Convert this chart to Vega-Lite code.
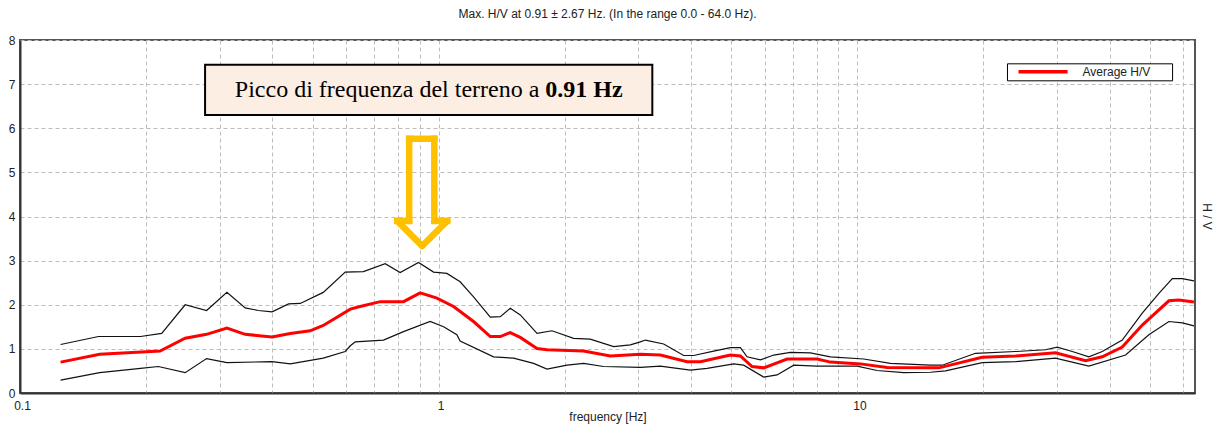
{
  "$schema": "https://vega.github.io/schema/vega-lite/v6.json",
  "width": 1175,
  "height": 353,
  "autosize": "none",
  "padding": {"left": 20, "top": 40, "right": 20, "bottom": 32},
  "background": "white",
  "title": {"text": "Max. H/V at 0.91 ± 2.67 Hz. (In the range 0.0 - 64.0 Hz).", "font": "Liberation Sans", "fontSize": 12, "fontWeight": "normal", "color": "#222222", "anchor": "middle", "offset": 13},
  "config": {
    "view": {"stroke": "#555555", "strokeWidth": 2},
    "axis": {"labelFont": "Liberation Sans", "labelFontSize": 12, "labelColor": "#222222", "titleFont": "Liberation Sans", "titleFontSize": 12, "titleFontWeight": "normal", "titleColor": "#222222", "gridColor": "#bdbdbd", "gridDash": [4, 3], "gridWidth": 1, "ticks": false, "domainColor": "#333333", "domainWidth": 2}
  },
  "datasets": {
    "curves": [
      {"series": "Upper", "freq": 0.125, "hv": 1.10},
      {"series": "Upper", "freq": 0.154, "hv": 1.28},
      {"series": "Upper", "freq": 0.194, "hv": 1.28},
      {"series": "Upper", "freq": 0.218, "hv": 1.35},
      {"series": "Upper", "freq": 0.248, "hv": 2.00},
      {"series": "Upper", "freq": 0.279, "hv": 1.87},
      {"series": "Upper", "freq": 0.312, "hv": 2.28},
      {"series": "Upper", "freq": 0.345, "hv": 1.93},
      {"series": "Upper", "freq": 0.371, "hv": 1.87},
      {"series": "Upper", "freq": 0.400, "hv": 1.84},
      {"series": "Upper", "freq": 0.438, "hv": 2.02},
      {"series": "Upper", "freq": 0.467, "hv": 2.03},
      {"series": "Upper", "freq": 0.530, "hv": 2.28},
      {"series": "Upper", "freq": 0.598, "hv": 2.74},
      {"series": "Upper", "freq": 0.661, "hv": 2.75},
      {"series": "Upper", "freq": 0.745, "hv": 2.93},
      {"series": "Upper", "freq": 0.809, "hv": 2.73},
      {"series": "Upper", "freq": 0.895, "hv": 2.96},
      {"series": "Upper", "freq": 0.972, "hv": 2.74},
      {"series": "Upper", "freq": 1.046, "hv": 2.71},
      {"series": "Upper", "freq": 1.125, "hv": 2.52},
      {"series": "Upper", "freq": 1.211, "hv": 2.18},
      {"series": "Upper", "freq": 1.328, "hv": 1.72},
      {"series": "Upper", "freq": 1.403, "hv": 1.73},
      {"series": "Upper", "freq": 1.482, "hv": 1.92},
      {"series": "Upper", "freq": 1.566, "hv": 1.77},
      {"series": "Upper", "freq": 1.717, "hv": 1.35},
      {"series": "Upper", "freq": 1.864, "hv": 1.41},
      {"series": "Upper", "freq": 2.100, "hv": 1.24},
      {"series": "Upper", "freq": 2.301, "hv": 1.22},
      {"series": "Upper", "freq": 2.617, "hv": 1.05},
      {"series": "Upper", "freq": 2.868, "hv": 1.09},
      {"series": "Upper", "freq": 3.030, "hv": 1.16},
      {"series": "Upper", "freq": 3.115, "hv": 1.20},
      {"series": "Upper", "freq": 3.445, "hv": 1.11},
      {"series": "Upper", "freq": 3.846, "hv": 0.85},
      {"series": "Upper", "freq": 4.063, "hv": 0.85},
      {"series": "Upper", "freq": 4.536, "hv": 0.95},
      {"series": "Upper", "freq": 4.972, "hv": 1.03},
      {"series": "Upper", "freq": 5.253, "hv": 1.03},
      {"series": "Upper", "freq": 5.450, "hv": 0.82},
      {"series": "Upper", "freq": 5.865, "hv": 0.75},
      {"series": "Upper", "freq": 6.310, "hv": 0.86},
      {"series": "Upper", "freq": 6.917, "hv": 0.92},
      {"series": "Upper", "freq": 7.722, "hv": 0.91},
      {"series": "Upper", "freq": 8.619, "hv": 0.82},
      {"series": "Upper", "freq": 10.35, "hv": 0.77},
      {"series": "Upper", "freq": 11.99, "hv": 0.67},
      {"series": "Upper", "freq": 14.94, "hv": 0.63},
      {"series": "Upper", "freq": 15.94, "hv": 0.63},
      {"series": "Upper", "freq": 19.14, "hv": 0.90},
      {"series": "Upper", "freq": 23.85, "hv": 0.94},
      {"series": "Upper", "freq": 28.13, "hv": 0.98},
      {"series": "Upper", "freq": 30.01, "hv": 1.04},
      {"series": "Upper", "freq": 32.58, "hv": 0.94},
      {"series": "Upper", "freq": 35.70, "hv": 0.82},
      {"series": "Upper", "freq": 38.43, "hv": 0.94},
      {"series": "Upper", "freq": 42.90, "hv": 1.20},
      {"series": "Upper", "freq": 47.89, "hv": 1.81},
      {"series": "Upper", "freq": 52.48, "hv": 2.26},
      {"series": "Upper", "freq": 56.49, "hv": 2.59},
      {"series": "Upper", "freq": 59.70, "hv": 2.59},
      {"series": "Upper", "freq": 63.63, "hv": 2.54},

      {"series": "Average H/V", "freq": 0.125, "hv": 0.70},
      {"series": "Average H/V", "freq": 0.155, "hv": 0.88},
      {"series": "Average H/V", "freq": 0.216, "hv": 0.95},
      {"series": "Average H/V", "freq": 0.248, "hv": 1.24},
      {"series": "Average H/V", "freq": 0.279, "hv": 1.33},
      {"series": "Average H/V", "freq": 0.312, "hv": 1.47},
      {"series": "Average H/V", "freq": 0.345, "hv": 1.33},
      {"series": "Average H/V", "freq": 0.400, "hv": 1.27},
      {"series": "Average H/V", "freq": 0.442, "hv": 1.35},
      {"series": "Average H/V", "freq": 0.493, "hv": 1.41},
      {"series": "Average H/V", "freq": 0.530, "hv": 1.53},
      {"series": "Average H/V", "freq": 0.615, "hv": 1.90},
      {"series": "Average H/V", "freq": 0.649, "hv": 1.96},
      {"series": "Average H/V", "freq": 0.725, "hv": 2.07},
      {"series": "Average H/V", "freq": 0.824, "hv": 2.07},
      {"series": "Average H/V", "freq": 0.903, "hv": 2.27},
      {"series": "Average H/V", "freq": 0.990, "hv": 2.15},
      {"series": "Average H/V", "freq": 1.085, "hv": 1.96},
      {"series": "Average H/V", "freq": 1.211, "hv": 1.62},
      {"series": "Average H/V", "freq": 1.328, "hv": 1.28},
      {"series": "Average H/V", "freq": 1.403, "hv": 1.28},
      {"series": "Average H/V", "freq": 1.482, "hv": 1.37},
      {"series": "Average H/V", "freq": 1.566, "hv": 1.26},
      {"series": "Average H/V", "freq": 1.717, "hv": 1.01},
      {"series": "Average H/V", "freq": 1.814, "hv": 0.98},
      {"series": "Average H/V", "freq": 2.218, "hv": 0.95},
      {"series": "Average H/V", "freq": 2.570, "hv": 0.84},
      {"series": "Average H/V", "freq": 3.030, "hv": 0.88},
      {"series": "Average H/V", "freq": 3.383, "hv": 0.86},
      {"series": "Average H/V", "freq": 3.919, "hv": 0.71},
      {"series": "Average H/V", "freq": 4.217, "hv": 0.71},
      {"series": "Average H/V", "freq": 4.972, "hv": 0.86},
      {"series": "Average H/V", "freq": 5.253, "hv": 0.84},
      {"series": "Average H/V", "freq": 5.603, "hv": 0.60},
      {"series": "Average H/V", "freq": 5.971, "hv": 0.57},
      {"series": "Average H/V", "freq": 6.792, "hv": 0.77},
      {"series": "Average H/V", "freq": 8.011, "hv": 0.77},
      {"series": "Average H/V", "freq": 8.619, "hv": 0.70},
      {"series": "Average H/V", "freq": 10.17, "hv": 0.66},
      {"series": "Average H/V", "freq": 11.78, "hv": 0.58},
      {"series": "Average H/V", "freq": 14.94, "hv": 0.57},
      {"series": "Average H/V", "freq": 15.65, "hv": 0.57},
      {"series": "Average H/V", "freq": 19.86, "hv": 0.81},
      {"series": "Average H/V", "freq": 23.85, "hv": 0.84},
      {"series": "Average H/V", "freq": 29.72, "hv": 0.91},
      {"series": "Average H/V", "freq": 35.06, "hv": 0.73},
      {"series": "Average H/V", "freq": 38.43, "hv": 0.82},
      {"series": "Average H/V", "freq": 42.90, "hv": 1.04},
      {"series": "Average H/V", "freq": 47.89, "hv": 1.54},
      {"series": "Average H/V", "freq": 55.44, "hv": 2.09},
      {"series": "Average H/V", "freq": 58.59, "hv": 2.11},
      {"series": "Average H/V", "freq": 63.63, "hv": 2.06},

      {"series": "Lower", "freq": 0.125, "hv": 0.29},
      {"series": "Lower", "freq": 0.155, "hv": 0.46},
      {"series": "Lower", "freq": 0.194, "hv": 0.56},
      {"series": "Lower", "freq": 0.214, "hv": 0.60},
      {"series": "Lower", "freq": 0.248, "hv": 0.46},
      {"series": "Lower", "freq": 0.279, "hv": 0.78},
      {"series": "Lower", "freq": 0.312, "hv": 0.69},
      {"series": "Lower", "freq": 0.400, "hv": 0.71},
      {"series": "Lower", "freq": 0.442, "hv": 0.66},
      {"series": "Lower", "freq": 0.530, "hv": 0.79},
      {"series": "Lower", "freq": 0.598, "hv": 0.94},
      {"series": "Lower", "freq": 0.615, "hv": 1.07},
      {"series": "Lower", "freq": 0.632, "hv": 1.16},
      {"series": "Lower", "freq": 0.738, "hv": 1.20},
      {"series": "Lower", "freq": 0.824, "hv": 1.39},
      {"series": "Lower", "freq": 0.954, "hv": 1.62},
      {"series": "Lower", "freq": 1.027, "hv": 1.50},
      {"series": "Lower", "freq": 1.105, "hv": 1.32},
      {"series": "Lower", "freq": 1.125, "hv": 1.18},
      {"series": "Lower", "freq": 1.352, "hv": 0.82},
      {"series": "Lower", "freq": 1.509, "hv": 0.79},
      {"series": "Lower", "freq": 1.685, "hv": 0.67},
      {"series": "Lower", "freq": 1.814, "hv": 0.54},
      {"series": "Lower", "freq": 2.025, "hv": 0.63},
      {"series": "Lower", "freq": 2.218, "hv": 0.67},
      {"series": "Lower", "freq": 2.476, "hv": 0.60},
      {"series": "Lower", "freq": 3.030, "hv": 0.58},
      {"series": "Lower", "freq": 3.383, "hv": 0.61},
      {"series": "Lower", "freq": 3.990, "hv": 0.52},
      {"series": "Lower", "freq": 4.374, "hv": 0.56},
      {"series": "Lower", "freq": 5.063, "hv": 0.66},
      {"series": "Lower", "freq": 5.349, "hv": 0.63},
      {"series": "Lower", "freq": 5.971, "hv": 0.36},
      {"series": "Lower", "freq": 6.428, "hv": 0.41},
      {"series": "Lower", "freq": 7.044, "hv": 0.63},
      {"series": "Lower", "freq": 8.011, "hv": 0.61},
      {"series": "Lower", "freq": 9.984, "hv": 0.61},
      {"series": "Lower", "freq": 11.14, "hv": 0.51},
      {"series": "Lower", "freq": 12.90, "hv": 0.46},
      {"series": "Lower", "freq": 14.94, "hv": 0.47},
      {"series": "Lower", "freq": 16.23, "hv": 0.50},
      {"series": "Lower", "freq": 19.86, "hv": 0.69},
      {"series": "Lower", "freq": 23.85, "hv": 0.71},
      {"series": "Lower", "freq": 29.72, "hv": 0.79},
      {"series": "Lower", "freq": 35.70, "hv": 0.61},
      {"series": "Lower", "freq": 43.69, "hv": 0.86},
      {"series": "Lower", "freq": 49.66, "hv": 1.32},
      {"series": "Lower", "freq": 55.44, "hv": 1.62},
      {"series": "Lower", "freq": 59.70, "hv": 1.59},
      {"series": "Lower", "freq": 63.63, "hv": 1.52}
    ]
  },
  "layer": [
    {
      "data": {"name": "curves"},
      "transform": [{"filter": "datum.series != 'Average H/V'"}],
      "mark": {"type": "line", "color": "#111111", "strokeWidth": 1.2},
      "encoding": {
        "x": {
          "field": "freq", "type": "quantitative",
          "scale": {"type": "log", "domain": [0.1, 64], "nice": false},
          "axis": {
            "title": "frequency [Hz]",
            "values": [0.1, 0.2, 0.3, 0.4, 0.5, 0.6, 0.7, 0.8, 0.9, 1, 2, 3, 4, 5, 6, 7, 8, 9, 10, 20, 30, 40, 50, 60],
            "format": "~g",
            "labelExpr": "datum.value == 0.1 || datum.value == 1 || datum.value == 10 ? datum.label : ''",
            "labelFlush": false,
            "labelPadding": 7,
            "labelOffset": 2,
            "titlePadding": 0,
            "grid": true
          }
        },
        "y": {
          "field": "hv", "type": "quantitative",
          "scale": {"domain": [0, 8], "nice": false},
          "axis": {
            "title": "H / V",
            "values": [0, 1, 2, 3, 4, 5, 6, 7, 8],
            "labelPadding": 5,
            "titleAngle": 90,
            "titleX": 1186,
            "titleY": 176,
            "titleAlign": "center",
            "titleBaseline": "middle",
            "grid": true
          }
        },
        "detail": {"field": "series"}
      }
    },
    {
      "data": {"name": "curves"},
      "transform": [{"filter": "datum.series == 'Average H/V'"}],
      "mark": {"type": "line", "color": "#ff0000", "strokeWidth": 3},
      "encoding": {
        "x": {"field": "freq", "type": "quantitative"},
        "y": {"field": "hv", "type": "quantitative"}
      }
    },
    {
      "data": {"values": [{}]},
      "mark": {"type": "rect", "fill": "#fdeee4", "stroke": "#000000", "strokeWidth": 2},
      "encoding": {
        "x": {"datum": 0.2767, "type": "quantitative"},
        "x2": {"datum": 3.237},
        "y": {"datum": 7.44, "type": "quantitative"},
        "y2": {"datum": 6.30}
      }
    },
    {
      "data": {"values": [{}]},
      "mark": {"type": "text", "text": "Picco di frequenza del terreno a", "font": "Liberation Serif", "fontSize": 24, "align": "right", "baseline": "alphabetic", "color": "#000000"},
      "encoding": {
        "x": {"datum": 1.739, "type": "quantitative"},
        "y": {"datum": 6.71, "type": "quantitative"}
      }
    },
    {
      "data": {"values": [{}]},
      "mark": {"type": "text", "text": "0.91 Hz", "font": "Liberation Serif", "fontSize": 24, "fontWeight": "bold", "align": "left", "baseline": "alphabetic", "color": "#000000"},
      "encoding": {
        "x": {"datum": 1.797, "type": "quantitative"},
        "y": {"datum": 6.71, "type": "quantitative"}
      }
    },
    {
      "data": {"values": [{}]},
      "mark": {"type": "rule", "color": "#ffc000", "strokeWidth": 6.5, "strokeCap": "square"},
      "encoding": {"x": {"datum": 0.850, "type": "quantitative"}, "x2": {"datum": 0.976}, "y": {"datum": 5.76, "type": "quantitative"}, "y2": {"datum": 5.76}}
    },
    {
      "data": {"values": [{}]},
      "mark": {"type": "rule", "color": "#ffc000", "strokeWidth": 6.5, "strokeCap": "square"},
      "encoding": {"x": {"datum": 0.976, "type": "quantitative"}, "x2": {"datum": 0.976}, "y": {"datum": 5.76, "type": "quantitative"}, "y2": {"datum": 3.90}}
    },
    {
      "data": {"values": [{}]},
      "mark": {"type": "rule", "color": "#ffc000", "strokeWidth": 6.5, "strokeCap": "square"},
      "encoding": {"x": {"datum": 0.850, "type": "quantitative"}, "x2": {"datum": 0.850}, "y": {"datum": 5.76, "type": "quantitative"}, "y2": {"datum": 3.90}}
    },
    {
      "data": {"values": [{}]},
      "mark": {"type": "rule", "color": "#ffc000", "strokeWidth": 6.5, "strokeCap": "square"},
      "encoding": {"x": {"datum": 0.976, "type": "quantitative"}, "x2": {"datum": 1.048}, "y": {"datum": 3.90, "type": "quantitative"}, "y2": {"datum": 3.90}}
    },
    {
      "data": {"values": [{}]},
      "mark": {"type": "rule", "color": "#ffc000", "strokeWidth": 6.5, "strokeCap": "square"},
      "encoding": {"x": {"datum": 0.796, "type": "quantitative"}, "x2": {"datum": 0.850}, "y": {"datum": 3.90, "type": "quantitative"}, "y2": {"datum": 3.90}}
    },
    {
      "data": {"values": [{}]},
      "mark": {"type": "rule", "color": "#ffc000", "strokeWidth": 6.5, "strokeCap": "round"},
      "encoding": {"x": {"datum": 1.048, "type": "quantitative"}, "x2": {"datum": 0.913}, "y": {"datum": 3.90, "type": "quantitative"}, "y2": {"datum": 3.33}}
    },
    {
      "data": {"values": [{}]},
      "mark": {"type": "rule", "color": "#ffc000", "strokeWidth": 6.5, "strokeCap": "round"},
      "encoding": {"x": {"datum": 0.796, "type": "quantitative"}, "x2": {"datum": 0.913}, "y": {"datum": 3.90, "type": "quantitative"}, "y2": {"datum": 3.33}}
    },
    {
      "data": {"values": [{}]},
      "mark": {"type": "rect", "fill": "#ffffff", "stroke": "#000000", "strokeWidth": 1},
      "encoding": {
        "x": {"datum": 22.82, "type": "quantitative"},
        "x2": {"datum": 56.58},
        "y": {"datum": 7.46, "type": "quantitative"},
        "y2": {"datum": 7.075}
      }
    },
    {
      "data": {"values": [{}]},
      "mark": {"type": "rule", "color": "#ff0000", "strokeWidth": 3.5},
      "encoding": {
        "x": {"datum": 24.25, "type": "quantitative"},
        "x2": {"datum": 31.76},
        "y": {"datum": 7.279, "type": "quantitative"},
        "y2": {"datum": 7.279}
      }
    },
    {
      "data": {"values": [{}]},
      "mark": {"type": "text", "text": "Average H/V", "font": "Liberation Sans", "fontSize": 12, "align": "left", "baseline": "middle", "color": "#222222"},
      "encoding": {
        "x": {"datum": 34.48, "type": "quantitative"},
        "y": {"datum": 7.279, "type": "quantitative"}
      }
    }
  ]
}
